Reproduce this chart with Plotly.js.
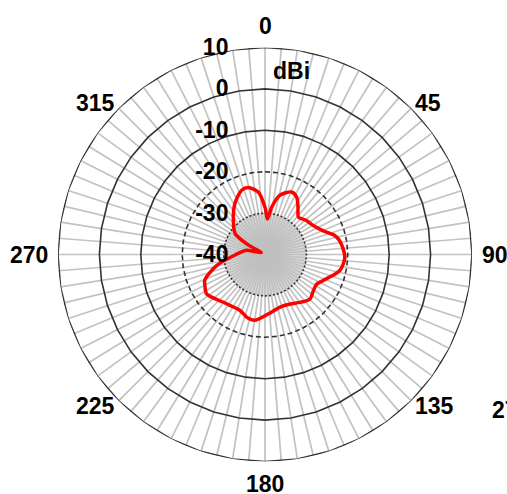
<!DOCTYPE html>
<html>
<head>
<meta charset="utf-8">
<script src="https://cdn.plot.ly/plotly-3.0.1.min.js"></script>
<style>html,body{margin:0;padding:0;background:#fff;}</style>
</head>
<body>
<div id="chart" style="width:507px;height:494px;"></div>
<script>
// Antenna pattern (dBi)
const patternAngles = [0, 4, 8, 14, 23, 29, 35, 42, 50, 59, 68, 75, 80, 92, 102, 108, 114, 120, 127, 135, 144, 153, 164, 177, 189, 196, 204, 221, 236, 243, 247, 257, 270, 283, 295, 300, 305, 317, 329, 340, 346, 354, 360];
const patternGain  = [-28.6, -31.4, -28.5, -25.3, -23.6, -24.2, -26.1, -27.9, -27.1, -26.4, -24.8, -22.5, -21.6, -20.7, -21.5, -23.1, -24.6, -25.6, -25.4, -24.7, -25.7, -26.6, -26.8, -25.6, -23.9, -24.2, -25.2, -24.7, -23.0, -23.7, -24.2, -28.0, -33.0, -35.5, -39.0, -35.0, -31.2, -28.8, -25.8, -23.5, -23.3, -24.9, -28.6];

const radialTickVals = [-40, -30, -20, -10, 0, 10];
const radialTickText = ['-40', '-30', '-20', '-10', '0', '10'];
const angularLabelVals = [0, 45, 90, 135, 180, 225, 270, 315];
const angularLabelText = ['0', '45', '90', '135', '180', '225', '270', '315'];
const ringLevels = [10, 0, -10, -20, -30];
const ringDash   = ['solid', 'solid', 'solid', '5px,3px', '2px,2px'];

const SPOKE_STEP = 4.5;   // spoke spacing (grid)
const RING_STEP = 9;      // polygon vertex spacing (grid)
const LABEL_GAP = 22;     // px from outer ring to angular label centre

const W = 507, H = 494;
const M = {l: 58, r: 35, t: 47, b: 32};
const PW = W - M.l - M.r, PH = H - M.t - M.b;
const CX = M.l + PW / 2, CY = M.t + PH / 2, RPX = Math.min(PW, PH) / 2;
const px2x = x => (x - M.l) / PW;
const px2y = y => (H - M.b - y) / PH;
const bold = s => '<b>' + s + '</b>';
const FS = 23;

// angular spokes
const spokeVals = [];
for (let a = 0; a < 360; a += SPOKE_STEP) spokeVals.push(a);

const traces = [];
ringLevels.forEach((lv, i) => {
  const th = [], rr = [];
  for (let a = 0; a <= 360; a += RING_STEP) { th.push(a); rr.push(lv); }
  const t = {
    type: 'scatterpolar', mode: 'lines', theta: th, r: rr,
    line: {color: '#333333', width: 1.6, dash: ringDash[i]},
    hoverinfo: 'skip', cliponaxis: false, showlegend: false
  };
  if (i === ringLevels.length - 1) { t.fill = 'toself'; t.fillcolor = 'rgba(190,190,190,0.6)'; }
  traces.push(t);
});
traces.push({
  type: 'scatterpolar', mode: 'lines', theta: patternAngles, r: patternGain,
  line: {color: '#ff0000', width: 3.5, shape: 'spline', smoothing: 0.8},
  hoverinfo: 'skip', showlegend: false
});

const labelFont = {family: 'Arial, "Liberation Sans", sans-serif', size: FS, color: '#000'};

const annotations = angularLabelVals.map((a, i) => {
  const rad = a * Math.PI / 180, R = RPX + LABEL_GAP;
  const s = Math.sin(rad), c = Math.cos(rad);
  const sgn = v => (Math.abs(v) < 1e-6 ? 0 : Math.sign(v));
  const hw = angularLabelText[i].length * 0.556 * FS / 2;
  const x = CX + R * s + sgn(s) * (hw - 12);
  const y = CY - R * c + sgn(c) * Math.abs(s) * 15;
  return {text: bold(angularLabelText[i]), xref: 'paper', yref: 'paper',
    x: px2x(x), y: px2y(y),
    xanchor: 'center', yanchor: 'middle', showarrow: false, font: labelFont};
});
annotations.push(
  {text: bold('dBi'), xref: 'paper', yref: 'paper', x: px2x(291), y: px2y(71),
   xanchor: 'center', yanchor: 'middle', showarrow: false, font: labelFont},
  {text: bold('270'), xref: 'paper', yref: 'paper', x: px2x(490), y: px2y(410),
   xanchor: 'left', yanchor: 'middle', showarrow: false, font: labelFont}
);

const layout = {
  width: W, height: H,
  margin: M,
  paper_bgcolor: '#ffffff',
  showlegend: false,
  polar: {
    domain: {x: [0, 1], y: [0, 1]},
    bgcolor: '#ffffff',
    angularaxis: {
      direction: 'clockwise', rotation: 90,
      tickmode: 'array', tickvals: spokeVals, ticktext: spokeVals.map(() => ''),
      showgrid: true, gridcolor: '#c2c2c2', gridwidth: 1.7,
      showline: false, ticks: '', showticklabels: false
    },
    radialaxis: {
      range: [-40, 10], angle: 90, side: 'counterclockwise',
      tickmode: 'array', tickvals: radialTickVals, ticktext: radialTickText.map(bold),
      tickangle: 90,
      showgrid: false, showline: false,
      ticks: 'outside', ticklen: 28, tickcolor: 'rgba(0,0,0,0)',
      tickfont: labelFont
    }
  },
  annotations: annotations
};

Plotly.newPlot('chart', traces, layout, {displayModeBar: false, staticPlot: true});
</script>
</body>
</html>
